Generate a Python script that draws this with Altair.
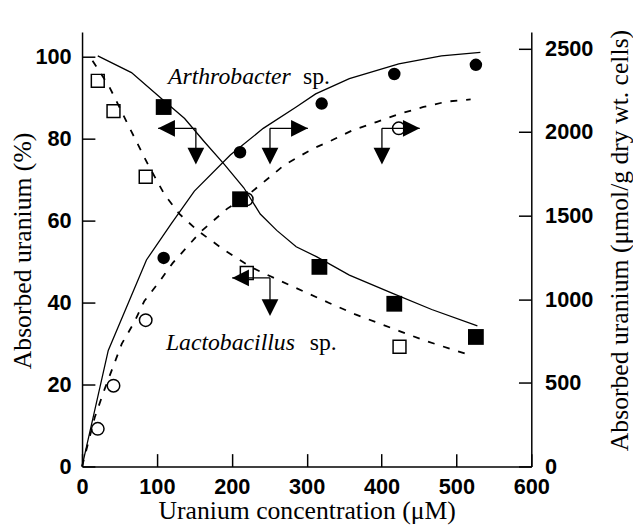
import altair as alt
import pandas as pd

# ---- axis ticks ----
x_ticks = [0, 100, 200, 300, 400, 500, 600]
left_ticks = [0, 20, 40, 60, 80, 100]
right_ticks = [0, 500, 1000, 1500, 2000, 2500]

# ---- measured points ----
# Arthrobacter sp., absorbed uranium (%)  -> filled squares
arth_pct_x = [109, 211, 317, 417, 526]
arth_pct_y = [87.7, 65.2, 48.7, 39.7, 31.6]
# Arthrobacter sp., absorbed uranium (umol/g) -> filled circles
arth_upt_x = [109, 211, 320, 417, 526]
arth_upt_y = [1247, 1879, 2170, 2347, 2402]
# Lactobacillus sp., absorbed uranium (%) -> open squares
lact_pct_x = [21, 42, 85, 220, 424]
lact_pct_y = [94.1, 86.7, 70.7, 47.2, 29.2]
# Lactobacillus sp., absorbed uranium (umol/g) -> open circles
lact_upt_x = [21, 42, 85, 220, 423]
lact_upt_y = [225, 483, 875, 1598, 2022]

# ---- fitted curves ----
arth_pct_fit_x = [21, 66, 109, 137, 163, 190, 216, 238, 260, 286, 313, 357, 414, 467, 528]
arth_pct_fit_y = [100.2, 96.1, 89.3, 84.9, 79.3, 73.7, 68, 61.6, 57.6, 53.6, 51.2, 46.7, 42.3, 38.3, 34.3]

arth_upt_fit_x = [0, 35, 86, 119, 150, 198, 242, 286, 312, 357, 423, 480, 532]
arth_upt_fit_y = [0, 694, 1235, 1451, 1647, 1863, 2022, 2150, 2228, 2319, 2407, 2456, 2476]

lact_pct_fit_x = [14, 36, 66, 88, 110, 130, 154, 190, 225, 242, 302, 330, 365, 423, 458, 519]
lact_pct_fit_y = [99, 92.8, 81.7, 73.7, 66.4, 61.6, 57.6, 52.8, 48.7, 47.2, 42.2, 39.9, 37.1, 33.1, 30.7, 27.1]

lact_upt_fit_x = [0, 17, 30, 53, 70, 83, 104, 121, 158, 194, 220, 250, 270, 308, 333, 362, 394, 425, 456, 487, 519]
lact_upt_fit_y = [0, 294, 461, 733, 865, 988, 1110, 1216, 1402, 1542, 1618, 1728, 1802, 1900, 1949, 2012, 2061,
                  2110, 2150, 2182, 2195]

# ---- arrow annotations (x in uM, y in %) ----
arrow_seg_x = [101.6, 152, 251, 251, 400.5, 400.5, 200.5, 251]
arrow_seg_x2 = [152, 152, 301.6, 251, 451, 400.5, 251, 251]
arrow_seg_y = [82.5, 82.5, 82.5, 82.5, 82.5, 82.5, 46, 46]
arrow_seg_y2 = [82.5, 74.5, 82.5, 74.5, 82.5, 74.5, 46, 37.5]
left_tip_x = [101.6, 200.5]
left_tip_y = [82.5, 46]
right_tip_x = [301.6, 451]
right_tip_y = [82.5, 82.5]
down_tip_x = [152, 251, 400.5, 251]
down_tip_y = [73.7, 73.7, 73.7, 36.7]

# ---- labels ----
species = ["Arthrobacter", "Lactobacillus"]
species_x = [114.8, 112]
species_y = [93.3, 28.3]
sp_text = ["sp.", "sp."]
sp_x = [295, 304]
sp_y = [93.3, 28.3]

SERIF = "'Liberation Serif', 'Times New Roman', Times, 'DejaVu Serif', serif"
SANS = "'Liberation Sans', Arial, Helvetica, sans-serif"


def df(xs, ys, **extra):
    d = {"x": xs, "y": ys}
    d.update(extra)
    return pd.DataFrame(d)


AXIS_COMMON = dict(
    grid=False,
    domainColor="black",
    domainWidth=1.5,
    tickColor="black",
    tickWidth=1.5,
    tickSize={"expr": "-13"},
    labelFont=SANS,
    labelFontSize=22,
    labelFontWeight="bold",
    labelColor="black",
    titleFont=SERIF,
    titleFontSize=26,
    titleFontWeight="normal",
    titleColor="black",
)

x_axis = alt.Axis(
    values=x_ticks,
    format="d",
    title="Uranium concentration (μM)",
    labelPadding=23,
    labelFlush=False,
    labelOverlap=False,
    titleX=227.5,
    titleY=53,
    titleAlign="center",
    titleBaseline="alphabetic",
    **AXIS_COMMON,
)
left_axis = alt.Axis(
    orient="left",
    values=left_ticks,
    format="d",
    title="Absorbed uranium (%)",
    labelPadding=24,
    labelOverlap=False,
    titleAngle=270,
    titleX=-52,
    titleY=341,
    titleAlign="left",
    titleBaseline="alphabetic",
    **AXIS_COMMON,
)
right_axis = alt.Axis(
    orient="right",
    values=right_ticks,
    format="d",
    title="Absorbed uranium (μmol/g dry wt. cells)",
    labelPadding=26.5,
    labelOverlap=False,
    titleAngle=270,
    titleX=97,
    titleY=424,
    titleAlign="left",
    titleBaseline="alphabetic",
    **AXIS_COMMON,
)

X = alt.X("x:Q", scale=alt.Scale(domain=[0, 600], nice=False, zero=False), axis=x_axis)
YL = alt.Y("y:Q", scale=alt.Scale(domain=[0, 106], nice=False), axis=left_axis)
YR = alt.Y("y:Q", scale=alt.Scale(domain=[0, 2598], nice=False), axis=right_axis)

solid = dict(color="black", strokeWidth=1.3)
dashed = dict(color="black", strokeWidth=1.8, strokeDash=[7, 9])

# ----- left (%) layer -----
l_fit_a = alt.Chart(df(arth_pct_fit_x, arth_pct_fit_y)).mark_line(**solid).encode(x=X, y=YL)
l_fit_l = alt.Chart(df(lact_pct_fit_x, lact_pct_fit_y)).mark_line(**dashed).encode(x=X, y=YL)

seg_df = pd.DataFrame({"x": arrow_seg_x, "x2": arrow_seg_x2, "y": arrow_seg_y, "y2": arrow_seg_y2})
segs = alt.Chart(seg_df).mark_rule(color="black", strokeWidth=1.3).encode(
    x=X, x2="x2:Q", y=YL, y2="y2:Q"
)
tri_left = alt.Chart(df(left_tip_x, left_tip_y)).mark_point(
    shape="M0,0L2,-1L2,1Z", filled=True, color="black", opacity=1, size=289, strokeWidth=0
).encode(x=X, y=YL)
tri_right = alt.Chart(df(right_tip_x, right_tip_y)).mark_point(
    shape="M0,0L-2,-1L-2,1Z", filled=True, color="black", opacity=1, size=289, strokeWidth=0
).encode(x=X, y=YL)
tri_down = alt.Chart(df(down_tip_x, down_tip_y)).mark_point(
    shape="M0,0L-1,-2L1,-2Z", filled=True, color="black", opacity=1, size=289, strokeWidth=0
).encode(x=X, y=YL)

sq_filled = alt.Chart(df(arth_pct_x, arth_pct_y)).mark_point(
    shape="square", filled=True, color="black", opacity=1, size=256
).encode(x=X, y=YL)
sq_open = alt.Chart(df(lact_pct_x, lact_pct_y)).mark_point(
    shape="square", filled=False, color="black", opacity=1, size=170, strokeWidth=1.5
).encode(x=X, y=YL)

txt_species = alt.Chart(df(species_x, species_y, t=species)).mark_text(
    align="left", baseline="alphabetic", font=SERIF, fontSize=24,
    fontStyle="italic", color="black"
).encode(x=X, y=YL, text="t:N")
txt_sp = alt.Chart(df(sp_x, sp_y, t=sp_text)).mark_text(
    align="left", baseline="alphabetic", font=SERIF, fontSize=24, color="black"
).encode(x=X, y=YL, text="t:N")

left_layer = alt.layer(l_fit_a, l_fit_l, segs, tri_left, tri_right, tri_down,
                       sq_filled, sq_open, txt_species, txt_sp)

# ----- right (umol/g) layer -----
r_fit_a = alt.Chart(df(arth_upt_fit_x, arth_upt_fit_y)).mark_line(**solid).encode(x=X, y=YR)
r_fit_l = alt.Chart(df(lact_upt_fit_x, lact_upt_fit_y)).mark_line(**dashed).encode(x=X, y=YR)
circ_filled = alt.Chart(df(arth_upt_x, arth_upt_y)).mark_point(
    shape="circle", filled=True, color="black", opacity=1, size=160
).encode(x=X, y=YR)
circ_open = alt.Chart(df(lact_upt_x, lact_upt_y)).mark_point(
    shape="circle", filled=False, color="black", opacity=1, size=160, strokeWidth=1.5
).encode(x=X, y=YR)

right_layer = alt.layer(r_fit_a, r_fit_l, circ_filled, circ_open)

chart = (
    alt.layer(left_layer, right_layer)
    .resolve_scale(y="independent")
    .properties(
        width=455,
        height=440,
        padding={"left": 75, "top": 21, "right": 103, "bottom": 61},
        autosize=alt.AutoSizeParams(type="none"),
        background="white",
    )
    .configure_view(stroke=None)
)

chart.save("out.html", embed_options={"renderer": "svg", "actions": False})
